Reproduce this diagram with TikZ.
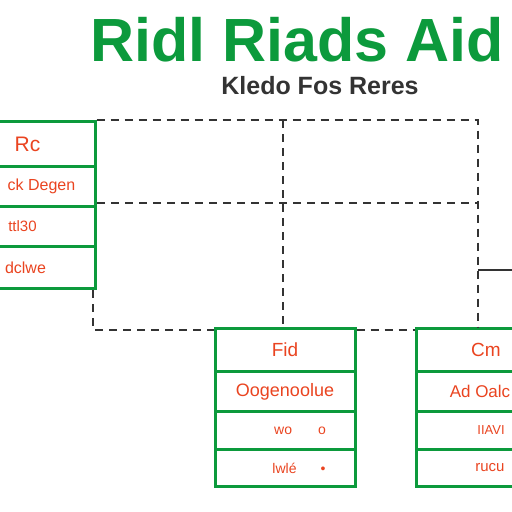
\documentclass[tikz,border=0pt]{standalone}
\usepackage{fontspec}
\setmainfont{Liberation Sans}
\usetikzlibrary{positioning}

\definecolor{tgreen}{HTML}{0C9A3C}
\definecolor{tred}{HTML}{EA4420}
\definecolor{tgray}{HTML}{333333}

\tikzset{
  cell/.style={draw=tgreen, line width=3pt, text=tred, inner sep=0pt,
    minimum height=#1, anchor=north},
  lcell/.style={cell=#1, minimum width=135pt},
  mcell/.style={cell=#1, minimum width=140pt},
  rcell/.style={cell=#1, minimum width=140pt},
  dashline/.style={tgray, line width=2pt, dash pattern=on 8pt off 6pt},
}

\begin{document}
\begin{tikzpicture}[x=1pt,y=-1pt]
 \useasboundingbox[fill=white] (0,0) rectangle (512,512);
 % title
 \node[text=tgreen, font=\fontsize{61}{61}\selectfont\bfseries] (title) at (297,40) {Ridl Riads Aid};
 \node[text=tgray, font=\fontsize{25}{25}\selectfont\bfseries] (sub) at (320,86) {Kledo Fos Reres};
 % left table
 \node[lcell=45pt, font=\fontsize{21}{21}\selectfont] (rc) at (27.5,120) {Rc};
 \node[lcell=40pt, font=\fontsize{16}{16}\selectfont] (degen) at (27.5,165) {\hspace{28pt}ck Degen};
 \node[lcell=40pt, font=\fontsize{15}{15}\selectfont] (ttl) at (27.5,205) {\hspace{-10pt}ttl30};
 \node[lcell=42pt, font=\fontsize{16}{16}\selectfont] (dclwe) at (27.5,245) {\hspace{-4pt}dclwe};
 % middle table
 \node[mcell=43pt, font=\fontsize{19}{19}\selectfont] (fid) at (285,327) {Fid};
 \node[mcell=40pt, font=\fontsize{18}{18}\selectfont] (oogen) at (285,370) {Oogenoolue};
 \node[mcell=38pt, font=\fontsize{14}{14}\selectfont] (wo) at (285,410) {\hspace{30pt}wo\hspace{26pt}o};
 \node[mcell=37pt, font=\fontsize{14}{14}\selectfont] (lwle) at (285,448) {\hspace{28pt}lwl\'e\hspace{24pt}•};
 % right table
 \node[rcell=43pt, font=\fontsize{19}{19}\selectfont] (cm) at (486,327) {Cm};
 \node[rcell=40pt, font=\fontsize{17}{17}\selectfont] (adoalc) at (486,370) {\hspace{-12pt}Ad Oalc};
 \node[rcell=38pt, font=\fontsize{13}{13}\selectfont] (uavi) at (486,410) {\hspace{10pt}IIAVI};
 \node[rcell=37pt, font=\fontsize{15}{15}\selectfont] (rucu) at (486,448) {\hspace{8pt}rucu};
 % dashed links
 \coordinate (tr) at (478,120);
 \coordinate (mr) at (478,203);
 \coordinate (br) at (478,327);
 \coordinate (tm) at (283,120);
 \coordinate (ml) at (97,203);
 \coordinate (bl) at (93,330);
 \coordinate (side) at (512,270);
 \draw[dashline] (rc.north east) -- (tr) -- (br);
 \draw[dashline] (tm) -- (fid.north -| tm);
 \draw[dashline] (ml) -- (mr);
 \draw[dashline] (bl |- dclwe.south) -- (bl) -- (bl -| fid.west);
 \draw[dashline] (bl -| fid.east) -- (bl -| cm.west);
 \draw[tgray, line width=1.5pt] (mr |- side) -- (side);
\end{tikzpicture}
\end{document}
